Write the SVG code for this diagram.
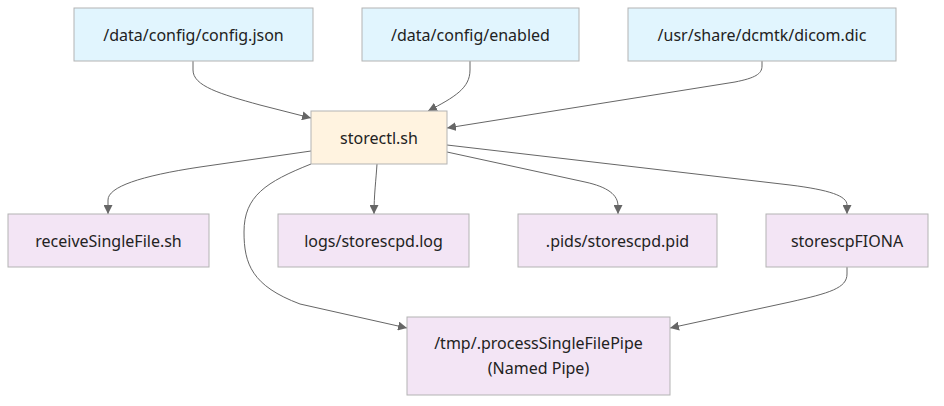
<svg xmlns="http://www.w3.org/2000/svg" width="944" height="406" viewBox="0 0 944 406">
<style>
.bg{fill:#ffffff}
.node rect{stroke:#b3b3b3;stroke-width:1}
.src rect{fill:#e1f5fe}
.main rect{fill:#fff3e0}
.out rect{fill:#f3e5f5}
.node text{font-family:"Noto Sans","DejaVu Sans",sans-serif;font-size:16px;fill:#222222;text-anchor:middle;dominant-baseline:central}
.edges path{fill:none;stroke:#666666;stroke-width:1;marker-end:url(#arrow)}
</style>
<defs>
<marker id="arrow" viewBox="0 0 10 10" refX="10" refY="5" markerUnits="userSpaceOnUse" markerWidth="9" markerHeight="9" orient="auto">
<path d="M0,0 L10,5 L0,10 z" fill="#666666" stroke="none"/>
</marker>
</defs>
<rect class="bg" x="0" y="0" width="944" height="406"/>
<g class="edges" id="edges">
<path d="M193,61 V70 C193,86 220,94 260,105 L311,118"/>
<path d="M470,61 V70 C470,88 455,97 428,111"/>
<path d="M762,61 V66 C762,74 755,78 735,82 L447,128"/>
<path d="M311,151 L200,167 C140,176 108,187 108,200 L108,214"/>
<path d="M377,164 C376,180 374,195 374,214"/>
<path d="M447,152 L585,182 C608,187 618,195 618,206 L618,214"/>
<path d="M447,145 L790,185 C830,190 847,196 847,205 L847,214"/>
<path d="M311,164 C266,182 244,196 244,232 C244,264 252,286 300,304 L407,328"/>
<path d="M847,267 V274 C847,288 830,293 790,302 L670,328"/>
</g>
<g id="config_json" class="node src"><rect x="74" y="8" width="239" height="53"/><text x="193.5" y="34.5">/data/config/config.json</text></g>
<g id="config_enabled" class="node src"><rect x="362" y="8" width="217" height="53"/><text x="470.5" y="34.5">/data/config/enabled</text></g>
<g id="dicom_dic" class="node src"><rect x="628" y="8" width="268" height="53"/><text x="762" y="34.5">/usr/share/dcmtk/dicom.dic</text></g>
<g id="storectl" class="node main"><rect x="311" y="111" width="136" height="53"/><text x="379" y="137.5">storectl.sh</text></g>
<g id="receiveSingleFile" class="node out"><rect x="8" y="214" width="201" height="53"/><text x="108.5" y="240.5">receiveSingleFile.sh</text></g>
<g id="storescpd_log" class="node out"><rect x="278" y="214" width="191" height="53"/><text x="373.5" y="240.5">logs/storescpd.log</text></g>
<g id="storescpd_pid" class="node out"><rect x="518" y="214" width="199" height="53"/><text x="617.5" y="240.5">.pids/storescpd.pid</text></g>
<g id="storescpFIONA" class="node out"><rect x="766" y="214" width="162" height="53"/><text x="847" y="240.5">storescpFIONA</text></g>
<g id="named_pipe" class="node out"><rect x="407" y="317" width="263" height="78"/><text x="538.5" y="343">/tmp/.processSingleFilePipe</text><text x="538.5" y="368">(Named Pipe)</text></g>
</svg>
